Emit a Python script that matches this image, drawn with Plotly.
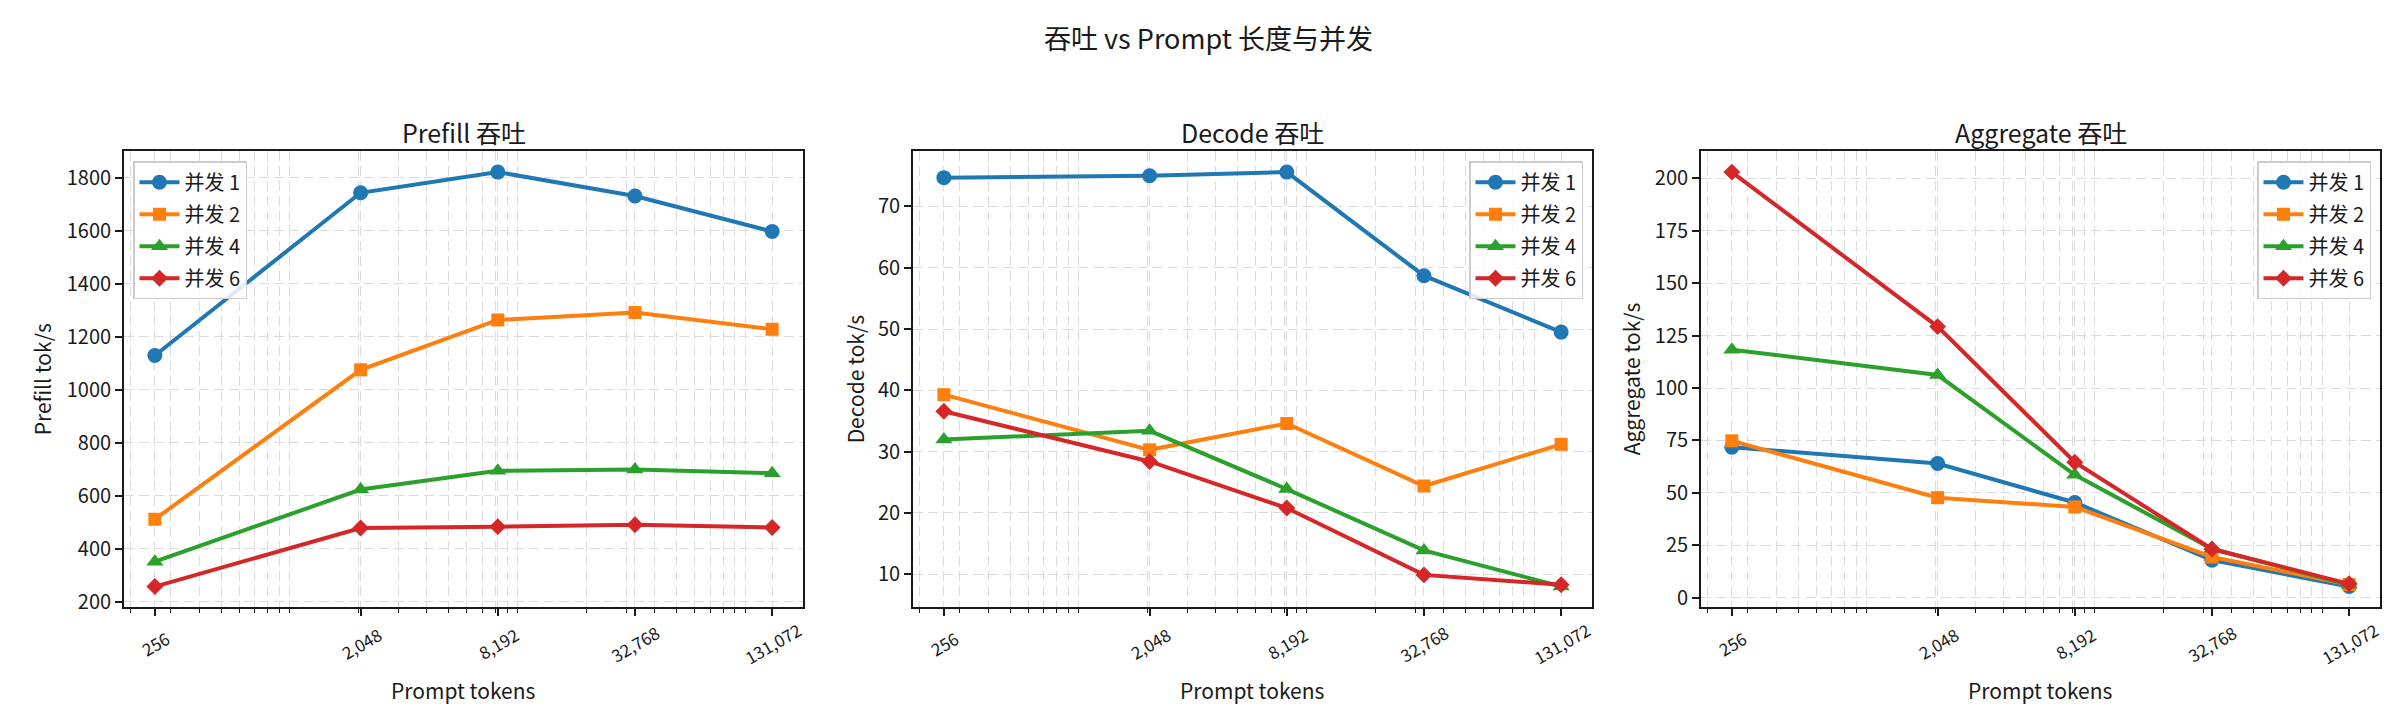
import numpy as np
import plotly.graph_objects as go

# Prompt length on the x axis (log scale) and concurrency levels
prompt_tokens = [256, 2048, 8192, 32768, 131072]
tick_text = ["256", "2,048", "8,192", "32,768", "131,072"]
series_names = ["并发 1", "并发 2", "并发 4", "并发 6"]

# Throughput values, one list per concurrency level
prefill_tps = [
    [1130, 1744, 1822, 1732, 1598],
    [512, 1076, 1264, 1292, 1229],
    [352, 624, 695, 700, 686],
    [258, 479, 484, 491, 481],
]
decode_tps = [
    [74.7, 75.0, 75.6, 58.7, 49.5],
    [39.3, 30.3, 34.6, 24.4, 31.2],
    [32.0, 33.4, 23.9, 13.9, 8.0],
    [36.6, 28.4, 20.8, 9.9, 8.3],
]
aggregate_tps = [
    [71.8, 64.0, 45.4, 17.9, 5.3],
    [74.8, 47.7, 43.3, 19.4, 6.3],
    [118.3, 106.2, 58.6, 23.3, 6.1],
    [203.0, 129.3, 64.6, 23.2, 6.6],
]

panel_titles = ["Prefill 吞吐", "Decode 吞吐", "Aggregate 吞吐"]
y_titles = ["Prefill tok/s", "Decode tok/s", "Aggregate tok/s"]
panel_data = [prefill_tps, decode_tps, aggregate_tps]
y_dticks = [200, 10, 25]

colors = ["#1f77b4", "#ff7f0e", "#2ca02c", "#d62728"]
symbols = ["circle", "square", "triangle-up", "diamond"]
marker_sizes = [15, 13, 15, 13]

W, H = 2400, 720
FONT = "Noto Sans CJK SC"
INK = "#1a1a1a"
GRID = "#dcdcdc"
DASH = "10px,5px"

# pixel layout of the three axes boxes
x_px = [(116, 795), (905, 1584), (1693, 2372)]
y_top, y_bot = 145, 606
y_dom = [1 - y_bot / H, 1 - y_top / H]
ylabel_gap = [82, 58, 70]
legend_side = ["left", "right", "right"]

# log x range with matplotlib-like 5% margins
lo, hi = np.log10(prompt_tokens[0]), np.log10(prompt_tokens[-1])
pad = 0.05 * (hi - lo)
x_range = [lo - pad, hi + pad]
minor_vals = [k * 10 ** e for e in range(2, 6) for k in range(1, 10)
              if x_range[0] <= np.log10(k * 10 ** e) <= x_range[1]]

fig = go.Figure()
annotations = []

for p in range(3):
    sfx = "" if p == 0 else str(p + 1)
    leg = "legend" + sfx
    for s in range(4):
        fig.add_trace(go.Scatter(
            x=prompt_tokens, y=panel_data[p][s], name=series_names[s],
            mode="lines+markers",
            line=dict(color=colors[s], width=4),
            marker=dict(symbol=symbols[s], size=marker_sizes[s], color=colors[s]),
            xaxis="x" + sfx, yaxis="y" + sfx, legend=leg,
            legendgroup=f"p{p}s{s}",
        ))

    vals = np.array(panel_data[p], dtype=float)
    vmin, vmax = vals.min(), vals.max()
    ypad = 0.05 * (vmax - vmin)
    x0, x1 = x_px[p][0] / W, x_px[p][1] / W

    fig.layout["xaxis" + sfx] = dict(
        type="log", range=x_range, domain=[x0, x1], anchor="y" + sfx,
        tickmode="array", tickvals=prompt_tokens, showticklabels=False,
        ticks="outside", ticklen=7, tickwidth=1.7, tickcolor=INK,
        showline=True, mirror=True, linecolor=INK, linewidth=1.8,
        showgrid=True, gridcolor=GRID, gridwidth=1.4, griddash=DASH,
        zeroline=False,
        minor=dict(tickmode="array", tickvals=minor_vals, ticks="outside",
                   ticklen=4, tickwidth=1.2, tickcolor=INK,
                   showgrid=True, gridcolor=GRID, gridwidth=1.4, griddash=DASH),
    )
    fig.layout["yaxis" + sfx] = dict(
        range=[vmin - ypad, vmax + ypad], domain=y_dom, anchor="x" + sfx,
        tick0=0, dtick=y_dticks[p],
        ticks="outside", ticklen=7, tickwidth=1.7, tickcolor=INK,
        tickfont=dict(size=20, color=INK),
        showline=True, mirror=True, linecolor=INK, linewidth=1.8,
        showgrid=True, gridcolor=GRID, gridwidth=1.4, griddash=DASH,
        zeroline=False,
    )

    if legend_side[p] == "left":
        lx, xa = (x_px[p][0] + 9) / W, "left"
    else:
        lx, xa = (x_px[p][1] - 9) / W, "right"
    fig.layout[leg] = dict(
        x=lx, xanchor=xa, y=1 - (y_top + 10) / H, yanchor="top",
        bgcolor="rgba(255,255,255,0.85)", bordercolor="#cccccc", borderwidth=1.5,
        font=dict(size=20, color=INK), itemwidth=40,
        traceorder="grouped", tracegroupgap=3,
    )

    # rotated tick labels centred under each major tick
    for v, t in zip(prompt_tokens, tick_text):
        annotations.append(dict(
            x=np.log10(v), xref="x" + sfx, y=y_dom[0], yref="paper",
            yshift=-36, text=t, textangle=-30, showarrow=False,
            xanchor="center", yanchor="middle", font=dict(size=17, color=INK),
        ))

    xc = (x0 + x1) / 2
    annotations.append(dict(
        x=xc, y=1 - 125 / H, xref="paper", yref="paper", text=panel_titles[p],
        showarrow=False, xanchor="center", yanchor="middle",
        font=dict(size=25, color=INK),
    ))
    annotations.append(dict(
        x=xc, y=1 - 690 / H, xref="paper", yref="paper", text="Prompt tokens",
        showarrow=False, xanchor="center", yanchor="middle",
        font=dict(size=21, color=INK),
    ))
    annotations.append(dict(
        x=(x_px[p][0] - ylabel_gap[p]) / W, y=sum(y_dom) / 2,
        xref="paper", yref="paper", text=y_titles[p], textangle=-90,
        showarrow=False, xanchor="center", yanchor="middle",
        font=dict(size=21, color=INK),
    ))

annotations.append(dict(
    x=0.5, y=1 - 30 / H, xref="paper", yref="paper",
    text="吞吐 vs Prompt 长度与并发", showarrow=False,
    xanchor="center", yanchor="middle", font=dict(size=27, color=INK),
))

fig.update_layout(
    width=W, height=H,
    margin=dict(l=0, r=0, t=0, b=0),
    paper_bgcolor="white", plot_bgcolor="white",
    font=dict(family=FONT, color=INK),
    annotations=annotations,
)

fig.write_html("out.html")
